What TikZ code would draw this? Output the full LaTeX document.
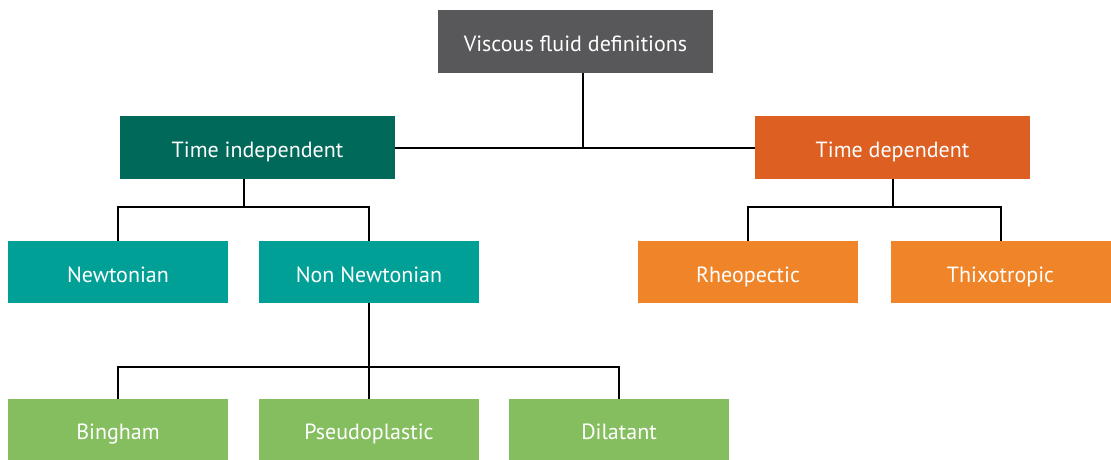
\documentclass[tikz,border=0pt]{standalone}
\usepackage{fontspec}
\setmainfont{PT Sans}
\usepackage{xcolor}
\usepackage{tikz}
\usetikzlibrary{positioning,calc}
\definecolor{rootgray}{HTML}{58585A}
\definecolor{indepteal}{HTML}{00695A}
\definecolor{depOrange}{HTML}{DD5F22}
\definecolor{leafteal}{HTML}{00A096}
\definecolor{leafOrange}{HTML}{F08428}
\definecolor{leafgreen}{HTML}{85BE5F}

\begin{document}
\begin{tikzpicture}[
  x=1pt, y=-1pt,
  box/.style={inner sep=0pt, text=white, font=\fontsize{22}{26}\selectfont,
    text height=21pt, text depth=1pt, align=center},
  bigbox/.style={box, minimum width=275pt, minimum height=63pt},
  smallbox/.style={box, minimum width=220pt, minimum height=62pt},
  link/.style={line width=2pt, black}
]
\useasboundingbox (0,0) rectangle (1111,459);

\node[bigbox, fill=rootgray] (root) at (575.5,41.5) {Viscous fluid definitions};
\node[bigbox, fill=indepteal] (indep) at (257.5,147.5) {Time independent};
\node[bigbox, fill=depOrange] (dep) at (892.5,147.5) {Time dependent};

\node[smallbox, fill=leafteal] (newt) at (118,272) {Newtonian};
\node[smallbox, fill=leafteal] (nonnewt) at (369,272) {Non Newtonian};
\node[smallbox, fill=leafOrange] (rheo) at (748,272) {Rheopectic};
\node[smallbox, fill=leafOrange] (thixo) at (1000.5,272) {Thixotropic};

\node[smallbox, minimum height=61pt, fill=leafgreen] (bingham) at (118,429.5) {Bingham};
\node[smallbox, minimum height=61pt, fill=leafgreen] (pseudo) at (369,429.5) {Pseudoplastic};
\node[smallbox, minimum height=61pt, fill=leafgreen] (dilat) at (619,429.5) {Dilatant};

\coordinate (rootJ) at (583,147.5);
\coordinate (indepJ) at (244,207);
\coordinate (depJ) at (892.5,207);
\coordinate (nonJ) at (369,367);

% top level
\draw[link] (indep.east) -- (dep.west);
\draw[link] (rootJ |- root.south) -- (rootJ);

% time independent branch
\draw[link] (indepJ |- indep.south) -- (indepJ);
\draw[link] (newt.north) |- (indepJ) -| (nonnewt.north);

% time dependent branch
\draw[link] (dep.south) -- (depJ);
\draw[link] (rheo.north) |- (depJ) -| (thixo.north);

% non newtonian branch
\draw[link] (nonnewt.south) -- (nonJ);
\draw[link] (bingham.north) |- (nonJ) -| (dilat.north);
\draw[link] (pseudo.north) -- (nonJ);
\end{tikzpicture}
\end{document}
